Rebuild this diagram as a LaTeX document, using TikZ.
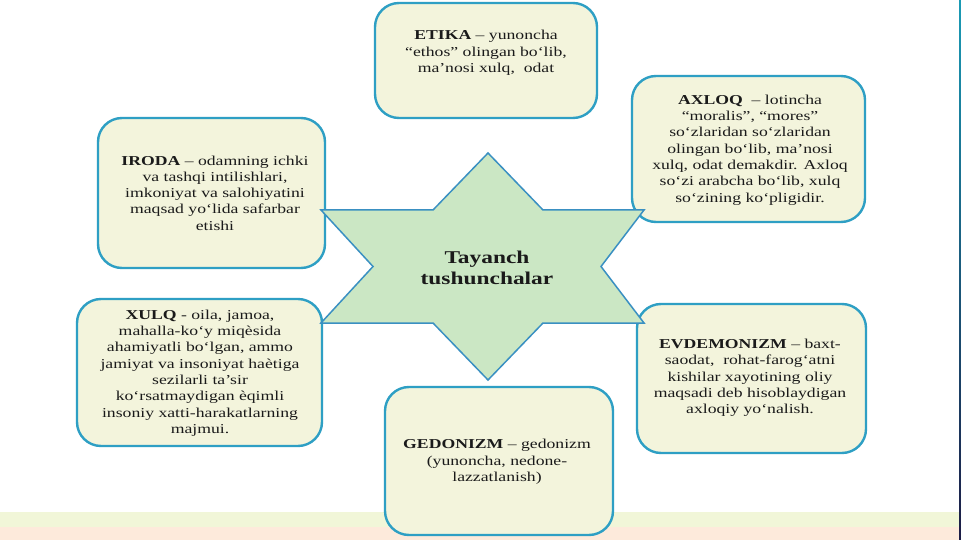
\documentclass[tikz,border=0pt]{standalone}
\usepackage{fontspec}
\setmainfont{Liberation Serif}[FakeStretch=1.3]
\definecolor{boxfill}{HTML}{F3F4DC}
\definecolor{boxline}{HTML}{2E9FC4}
\definecolor{starfill}{HTML}{CBE7C4}
\definecolor{starline}{HTML}{3A90C2}
\definecolor{stripgreen}{HTML}{F1F6D8}
\definecolor{strippeach}{HTML}{FDEADB}
\definecolor{edgetop}{HTML}{1A9BB5}
\definecolor{edgebot}{HTML}{1C1C45}
\definecolor{txt}{HTML}{1A1A1A}
\begin{document}
\begin{tikzpicture}[x=1pt,y=-1pt,
  infobox/.style={draw=boxline, line width=2.4pt, fill=boxfill, rounded corners=24pt, inner sep=0pt},
  infotext/.style={align=center, text=txt, inner sep=0pt, font=\fontsize{13.6}{16.3}\selectfont},
  centretext/.style={align=center, text=txt, inner sep=0pt, font=\fontsize{18}{21}\selectfont\bfseries}]
\useasboundingbox (0,0) rectangle (961,540);
\fill[white] (0,0) rectangle (961,540);
% bottom strips
\fill[stripgreen] (0,512) rectangle (959,527);
\fill[strippeach] (0,527) rectangle (959,540);
% right edge line
\shade[top color=edgetop, bottom color=edgebot] (959,0) rectangle (961,540);

% boxes
\node[infobox, minimum width=222pt, minimum height=115pt] (etika) at (486,60.5) {};
\node[infobox, minimum width=233pt, minimum height=146pt] (axloq) at (748.5,149) {};
\node[infobox, minimum width=227pt, minimum height=150pt] (iroda) at (211.5,193) {};
\node[infobox, minimum width=245pt, minimum height=147pt] (xulq) at (199.5,372.5) {};
\node[infobox, minimum width=229pt, minimum height=149pt] (evdem) at (751.5,378.5) {};
\node[infobox, minimum width=228pt, minimum height=148pt] (gedon) at (499,461) {};

% texts
\node[infotext] (etikaT) at (486,53) {\textbf{ETIKA} – yunoncha\\“ethos” olingan bo‘lib,\\ma’nosi xulq,\ \ odat};
\node[infotext] (axloqT) at (750,150) {\textbf{AXLOQ}\ \ – lotincha\\“moralis”, “mores”\\so‘zlaridan so‘zlaridan\\olingan bo‘lib, ma’nosi\\xulq, odat demakdir. Axloq\\so‘zi arabcha bo‘lib, xulq\\so‘zining ko‘pligidir.};
\node[infotext] (irodaT) at (215,193) {\textbf{IRODA} – odamning ichki\\va tashqi intilishlari,\\imkoniyat va salohiyatini\\maqsad yo‘lida safarbar\\etishi};
\node[infotext] (xulqT) at (200,373) {\textbf{XULQ} - oila, jamoa,\\mahalla-ko‘y miqèsida\\ahamiyatli bo‘lgan, ammo\\jamiyat va insoniyat haètiga\\sezilarli ta’sir\\ko‘rsatmaydigan èqimli\\insoniy xatti-harakatlarning\\majmui.};
\node[infotext] (evdemT) at (750,378) {\textbf{EVDEMONIZM} – baxt-\\saodat,\ \ rohat-farog‘atni\\kishilar xayotining oliy\\maqsadi deb hisoblaydigan\\axloqiy yo‘nalish.};
\node[infotext] (gedonT) at (497,462) {\textbf{GEDONIZM} – gedonizm\\(yunoncha, nedone-\\lazzatlanish)};

% star
\filldraw[fill=starfill, draw=starline, line width=1.5pt, line join=miter]
  (488,153) -- (543,210) -- (644,210) -- (601,266.5) -- (644,323) -- (543,323)
  -- (488,380) -- (433,323) -- (321,323) -- (373,266.5) -- (321,210) -- (433,210) -- cycle;
\node[centretext] (centre) at (487,268) {Tayanch\\tushunchalar};
\end{tikzpicture}
\end{document}
